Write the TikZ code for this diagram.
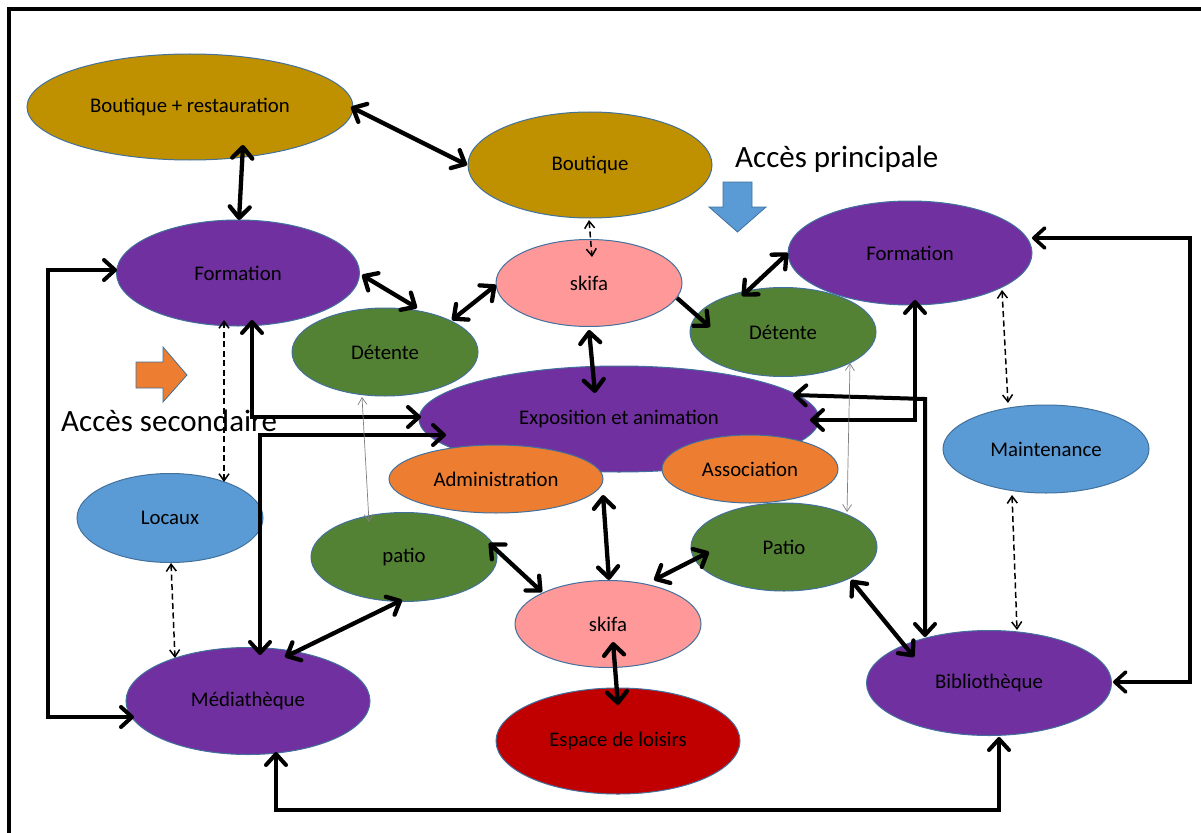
\documentclass[tikz,border=0pt]{standalone}
\usepackage{fontspec}
\setmainfont{Carlito}
\usetikzlibrary{arrows.meta,shapes.geometric,calc}
\definecolor{cgold}{HTML}{BF9000}
\definecolor{cpurple}{HTML}{7030A0}
\definecolor{cpink}{HTML}{FF9999}
\definecolor{cgreen}{HTML}{548235}
\definecolor{corange}{HTML}{ED7D31}
\definecolor{cblue}{HTML}{5B9BD5}
\definecolor{cred}{HTML}{C00000}
\definecolor{cedge}{HTML}{41719C}
\tikzset{
  Bigv/.tip={Straight Barb[length=11pt,width=20pt,round]},
  Smallv/.tip={Straight Barb[length=7pt,width=10pt]},
  Thinv/.tip={Straight Barb[length=7pt,width=9pt]},
}
\begin{document}
\begin{tikzpicture}[x=1pt,y=-1pt,
  zone/.style={ellipse, draw=cedge, line width=1pt, inner sep=0pt,
    font=\fontsize{20.8}{24}\selectfont, text=black},
  link/.style={line width=4.3pt, Bigv-Bigv},
  onelink/.style={line width=4.3pt, -Bigv},
  elbow/.style={line width=4pt, Bigv-Bigv},
  dlink/.style={line width=1.5pt, dash pattern=on 6pt off 3.5pt, Smallv-Smallv},
  glink/.style={line width=0.7pt, draw=gray, Thinv-Thinv},
  access/.style={font=\fontsize{31}{36}\selectfont, anchor=base west, inner sep=0pt},
  pointer/.style={draw=cedge, line width=0.8pt}
]
\useasboundingbox (0,0) rectangle (1201,832);
\fill[white] (0,0) rectangle (1201,832);
% frame
\draw[line width=4pt] (9,845) -- (9,9) -- (1215,9);

% nodes
\node[zone, fill=cgold, minimum width=326pt, minimum height=106pt] (br) at (190,107) {Boutique + restauration};
\node[zone, fill=cgold, minimum width=244pt, minimum height=106pt] (bq) at (590,165) {Boutique};
\node[zone, fill=cpurple, minimum width=243pt, minimum height=106pt] (fl) at (238,273) {Formation};
\node[zone, fill=cpink, minimum width=186pt, minimum height=87pt] (sk1) at (589,283) {skifa};
\node[zone, fill=cpurple, minimum width=244pt, minimum height=104pt] (fr) at (910,253) {Formation};
\node[zone, fill=cgreen, minimum width=186pt, minimum height=88pt] (dl) at (385,352) {Détente};
\node[zone, fill=cgreen, minimum width=186pt, minimum height=89pt] (dr) at (783,332) {Détente};
\node[zone, fill=cpurple, minimum width=400pt, minimum height=106pt] (ex) at (619,419) {Exposition et animation};
\node[zone, fill=cblue, minimum width=206pt, minimum height=88pt] (mt) at (1046,449) {Maintenance};
\node[zone, fill=corange, minimum width=214pt, minimum height=68pt] (ad) at (496,479) {Administration};
\node[zone, fill=corange, minimum width=176pt, minimum height=68pt] (as) at (750,469) {Association};
\node[zone, fill=cblue, minimum width=186pt, minimum height=89pt] (lc) at (170,518) {Locaux};
\node[zone, fill=cgreen, minimum width=186pt, minimum height=89pt] (pl) at (404,557) {patio};
\node[zone, fill=cgreen, minimum width=186pt, minimum height=88pt] (pr) at (784,547) {Patio};
\node[zone, fill=cpink, minimum width=186pt, minimum height=87pt] (sk2) at (608,624) {skifa};
\node[zone, fill=cpurple, minimum width=244pt, minimum height=107pt] (md) at (248,701) {Médiathèque};
\node[zone, fill=cpurple, minimum width=245pt, minimum height=105pt] (bb) at (989,683) {Bibliothèque};
\node[zone, fill=cred, minimum width=244pt, minimum height=106pt] (el) at (618,741) {Espace de loisirs};

% access labels and pointers
\node[access] (ap) at (735,167) {Accès principale};
\node[access] (as2) at (61,431) {Accès secondaire};
\filldraw[pointer, fill=cblue] (723,182) -- (752,182) -- (752,207) -- (766,207) -- (737.5,232) -- (709,207) -- (723,207) -- cycle;
\filldraw[pointer, fill=corange] (136,362) -- (163,362) -- (163,347) -- (187,375) -- (163,402) -- (163,388) -- (136,388) -- cycle;

% thick direct links
\draw[link] ($(br)+(161,0)$) -- ($(bq)+(-123,0)$);
\draw[link] ($(br)+(53,38)$) -- ($(fl)+(1,-53)$);
\draw[link] ($(fl)+(124,2)$) -- ($(dl)+(32,-44)$);
\draw[link] ($(dl)+(67,-32)$) -- ($(sk1)+(-93,2)$);
\draw[onelink] ($(sk1)+(88,15)$) -- ($(dr)+(-73,-5)$);
\draw[link] ($(dr)+(-41,-36)$) -- ($(fr)+(-122,0)$);
\draw[link] ($(sk1)+(0,47)$) -- ($(ex)+(-24,-26)$);
\draw[link] ($(pl)+(85,-14)$) -- ($(sk2)+(-66,-32)$);
\draw[link] ($(pl)+(-2,43)$) -- ($(md)+(37,-44)$);
\draw[link] ($(ex)+(-16,76)$) -- ($(sk2)+(1,-44)$);
\draw[link] ($(pr)+(-75,5)$) -- ($(sk2)+(46,-44)$);
\draw[link] ($(pr)+(67,33)$) -- ($(bb)+(-75,-26)$);
\draw[link] ($(sk2)+(5,18)$) -- ($(el)+(0,-36)$);

% elbow links
\draw[elbow] ($(fl)+(14,47)$) |- ($(ex)+(-198,-2)$);
\draw[elbow] ($(ex)+(-173,16)$) -| ($(md)+(12,-46)$);
\draw[elbow] ($(fr)+(5,47)$) |- ($(ex)+(191,1)$);
\coordinate (c12) at (925,399);
\draw[elbow] ($(ex)+(174,-24)$) -- (c12) -- ($(bb)+(-64,-46)$);
\coordinate (c13a) at (1190,238);
\coordinate (c13b) at (1190,682);
\draw[elbow, line width=3.6pt] ($(fr)+(122,-15)$) -- (c13a) -- (c13b) -- ($(bb)+(124,-1)$);
\coordinate (c14a) at (48,270);
\coordinate (c14b) at (48,717);
\draw[elbow] ($(fl)+(-121,-3)$) -- (c14a) -- (c14b) -- ($(md)+(-114,16)$);
\coordinate (c15a) at (276,810);
\coordinate (c15b) at (999,810);
\draw[elbow] ($(md)+(28,51)$) -- (c15a) -- (c15b) -- ($(bb)+(10,54)$);

% dashed links
\draw[dlink] ($(bq)+(-1,55)$) -- ($(sk1)+(3,-26)$);
\draw[dlink] ($(fl)+(-14,47)$) -- ($(lc)+(54,-36)$);
\draw[dlink] ($(lc)+(1,45)$) -- ($(md)+(-73,-43)$);
\draw[dlink] ($(fr)+(92,37)$) -- ($(mt)+(-38,-46)$);
\draw[dlink] ($(mt)+(-34,46)$) -- ($(bb)+(28,-53)$);

% thin gray links
\draw[glink] ($(dl)+(-23,45)$) -- ($(pl)+(-35,-35)$);
\draw[glink] ($(dr)+(67,31)$) -- ($(pr)+(63,-35)$);
\end{tikzpicture}
\end{document}
